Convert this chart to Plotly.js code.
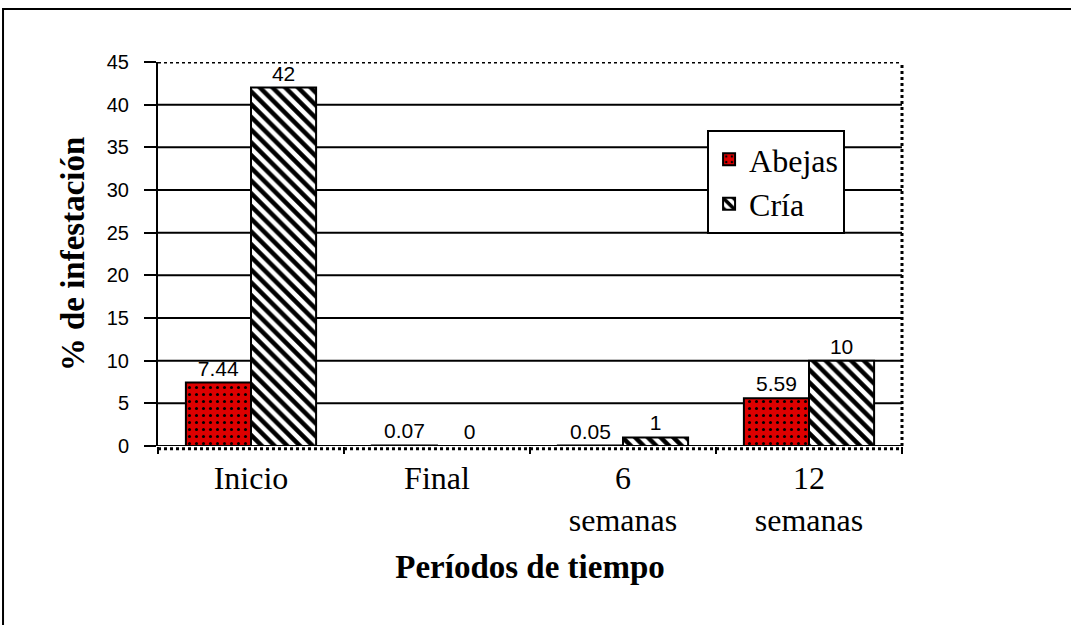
<!DOCTYPE html>
<html><head><meta charset="utf-8">
<script src="https://cdn.plot.ly/plotly-3.0.1.min.js"></script>
<style>body{margin:0;padding:0;background:#fff}#chart{width:1071px;height:625px}</style>
</head><body><div id="chart"></div>
<script>
const categories = ["Inicio", "Final", "6<br>semanas", "12<br>semanas"];
const abejas = [7.44, 0.07, 0.05, 5.59];
const cria = [42, 0, 1, 10];
const abejasLabels = ["7.44", "0.07", "0.05", "5.59"];
const criaLabels = ["42", "0", "1", "10"];
const yTicks = [0, 5, 10, 15, 20, 25, 30, 35, 40, 45];
const gridVals = [0, 5, 10, 15, 20, 25, 30, 35, 40];

const serif = 'Liberation Serif, Times New Roman, serif';
const sans = 'Liberation Sans, Arial, sans-serif';

const traces = [
  {type: 'bar', name: 'Abejas', x: categories, y: abejas, text: abejasLabels,
   textposition: 'outside', cliponaxis: false,
   textfont: {family: sans, size: 21, color: '#000'},
   marker: {color: '#dd0000', line: {color: '#000', width: 2},
            pattern: {shape: '.', fgcolor: '#000', bgcolor: '#dd0000', size: 7, solidity: 0.15}}},
  {type: 'bar', name: 'Cría', x: categories, y: cria, text: criaLabels,
   textposition: 'outside', cliponaxis: false,
   textfont: {family: sans, size: 21, color: '#000'},
   marker: {color: '#ffffff', line: {color: '#000', width: 2},
            pattern: {shape: '\\', fgcolor: '#000', bgcolor: '#ffffff', size: 9, solidity: 0.5}}}
];

const shapes = gridVals.map(v => ({type: 'line', xref: 'paper', yref: 'y', x0: 0, x1: 1, y0: v, y1: v,
  line: {color: '#000', width: 2}, layer: 'below'}));
shapes.push({type: 'line', xref: 'paper', yref: 'y', x0: 0, x1: 1, y0: 45, y1: 45, line: {color: '#000', width: 3, dash: 'dot'}});
shapes.push({type: 'line', xref: 'paper', yref: 'paper', x0: 1, x1: 1, y0: 0, y1: 1, line: {color: '#000', width: 3, dash: 'dot'}});
shapes.push({type: 'line', xref: 'paper', yref: 'paper', x0: 0, x1: 1, y0: -0.007, y1: -0.007, line: {color: '#000', width: 3, dash: 'dot'}});
shapes.push({type: 'rect', xref: 'paper', yref: 'paper', x0: -0.2083, x1: 1.24, y0: -0.5, y1: 1.138, line: {color: '#000', width: 2}, layer: 'below'});

const layout = {
  width: 1071, height: 625,
  margin: {l: 158, r: 169, t: 62, b: 179},
  paper_bgcolor: '#fff', plot_bgcolor: '#fff',
  barmode: 'group', bargap: 0.3, bargroupgap: 0,
  showlegend: true,
  legend: {x: 0.738, y: 0.823, xanchor: 'left', yanchor: 'top', bgcolor: '#fff',
           bordercolor: '#000', borderwidth: 2, entrywidth: 130,
           font: {family: serif, size: 32, color: '#000'}},
  xaxis: {type: 'category', tickson: 'boundaries', ticks: 'outside', ticklen: 7, tickwidth: 2, tickcolor: '#000',
          ticklabelstandoff: 10,
          showline: false, showgrid: false, automargin: false,
          tickfont: {family: serif, size: 32, color: '#000'},
          title: {text: 'Períodos de tiempo', standoff: 18,
                  font: {family: serif, size: 33, color: '#000', weight: 'bold'}}},
  yaxis: {range: [0, 45], tickvals: yTicks, ticks: 'outside', ticklen: 12, tickwidth: 2, tickcolor: '#000',
          ticklabelstandoff: 11,
          showline: true, linecolor: '#000', linewidth: 2, showgrid: false, zeroline: false, automargin: false,
          tickfont: {family: sans, size: 20, color: '#000'},
          title: {text: '% de infestación', standoff: 12,
                  font: {family: serif, size: 33, color: '#000', weight: 'bold'}}},
  shapes: shapes
};
Plotly.newPlot('chart', traces, layout, {staticPlot: true});
</script></body></html>
